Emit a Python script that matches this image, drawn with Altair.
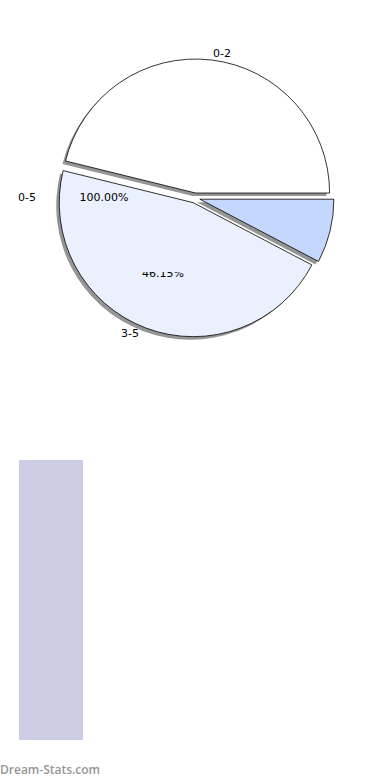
import altair as alt
import pandas as pd

# Pie data (6/13, 6/13, 1/13)
categories = ["0-5", "3-5", "0-2"]
counts = [1, 6, 6]
slice_colors = ["#C4D8FE", "#EAF0FE", "#FFFFFF"]

# Label texts
cat_labels = ["0-2", "0-5", "3-5"]
pct_labels = ["100.00%", "46.15%"]

# Single bar below
bar_values = [1]

df = pd.DataFrame({"cat": categories, "n": counts, "order": list(range(len(categories)))})

CX, CY, R, EXPLODE = 195, 198, 134, 5

base = (
    alt.Chart(df)
    .transform_joinaggregate(total="sum(n)")
    .transform_window(cum="sum(n)", sort=[alt.SortField("order")], frame=[None, 0])
    .transform_calculate(t0="(datum.cum - datum.n) / datum.total * 2 * PI + PI / 2")
    .transform_calculate(t1="datum.cum / datum.total * 2 * PI + PI / 2")
    .transform_calculate(mid="(datum.t0 + datum.t1) / 2")
    .transform_calculate(cx=f"{CX} + {EXPLODE} * sin(datum.mid)")
    .transform_calculate(cy=f"{CY} - {EXPLODE} * cos(datum.mid)")
    .transform_calculate(sx="datum.cx - 3")
    .transform_calculate(sy="datum.cy + 3")
)

shadow = base.mark_arc(radius=R, fill="#8a8a8a", opacity=0.9).encode(
    theta=alt.Theta("t0:Q", scale=None),
    theta2="t1:Q",
    x=alt.X("sx:Q", scale=None),
    y=alt.Y("sy:Q", scale=None),
)

arcs = base.mark_arc(radius=R, stroke="#000000", strokeWidth=0.8).encode(
    theta=alt.Theta("t0:Q", scale=None),
    theta2="t1:Q",
    x=alt.X("cx:Q", scale=None),
    y=alt.Y("cy:Q", scale=None),
    color=alt.Color("cat:N", scale=alt.Scale(domain=categories, range=slice_colors), legend=None),
)

FONT = "DejaVu Sans"

def label(txt, x, y, size=11, color="#000000", weight="normal", align="center", font=FONT):
    return alt.Chart(pd.DataFrame({"t": [txt]})).mark_text(
        font=font, fontSize=size, color=color, fontWeight=weight, align=align, baseline="middle"
    ).encode(text="t:N", x=alt.value(x), y=alt.value(y))

texts = [
    label(cat_labels[0], 222, 54),
    label(cat_labels[1], 27, 198),
    label(cat_labels[2], 130, 334),
    label(pct_labels[0], 104, 198),
    label(pct_labels[1], 163, 274),
]

# the upper half of the second percentage is hidden under the slice fill in the original
mask = alt.Chart(pd.DataFrame({"v": [0]})).mark_rect(color="#EAF0FE").encode(
    x=alt.value(138), x2=alt.value(190), y=alt.value(264), y2=alt.value(272)
)

bar = alt.Chart(pd.DataFrame({"v": bar_values})).mark_rect(color="#CCCCE4").encode(
    x=alt.value(19), x2=alt.value(83), y=alt.value(460), y2=alt.value(740)
)

footer = label("Dream-Stats.com", 0, 770, size=12, color="#959595", weight=600, align="left", font="Open Sans")

chart = (
    alt.layer(shadow, arcs, *texts, mask, bar, footer)
    .properties(width=390, height=780, autosize="none", padding=0)
    .configure_view(strokeWidth=0)
)

chart.save("out.html", embed_options={"renderer": "svg", "actions": False})
